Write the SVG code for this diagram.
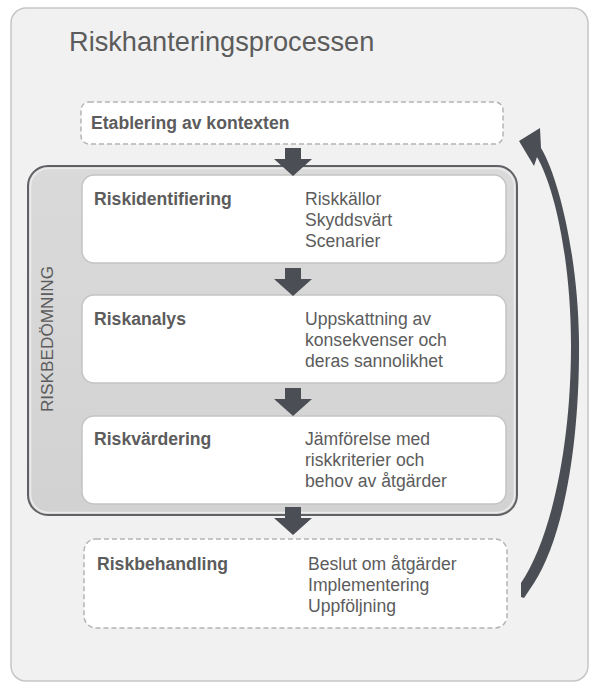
<svg xmlns="http://www.w3.org/2000/svg" width="591" height="683" viewBox="0 0 591 683">
<defs>
<style>
.t{font-family:"Liberation Sans",Arial,sans-serif;fill:#5c5c5c;}
.b{font-size:17.6px;font-weight:bold;}
.n{font-size:17.6px;}
.dash{fill:#ffffff;stroke:#b4b4b4;stroke-width:1.5;stroke-dasharray:5 3;}
.white{fill:#ffffff;stroke:#c4c4c4;stroke-width:1.5;}
.arr{fill:#4b4e54;}
</style>
<linearGradient id="gg" x1="0" y1="0" x2="0" y2="1">
<stop offset="0" stop-color="#dadada"/>
<stop offset="1" stop-color="#d2d2d2"/>
</linearGradient>
<path id="down" d="M-8,0 H8 V11 H19 L0,28 L-19,11 H-8 Z"/>
</defs>
<rect x="0" y="0" width="591" height="683" fill="#ffffff"/>
<g id="panel">
<rect x="11" y="8" width="577" height="673" rx="15" fill="#f1f1f1" stroke="#c6c6c6" stroke-width="1.5"/>
<text class="t" x="69" y="51" font-size="27.2">Riskhanteringsprocessen</text>
</g>
<g id="riskbedomning">
<rect x="28" y="166" width="489" height="349" rx="20" fill="url(#gg)" stroke="#5f6164" stroke-width="2"/>
<rect x="30.5" y="168.5" width="484" height="344" rx="18" fill="none" stroke="#ececec" stroke-width="1.5"/>
<text class="t" transform="translate(53,339) rotate(-90)" text-anchor="middle" font-size="17.2" fill="#777">RISKBEDÖMNING</text>
</g>
<g id="etablering">
<rect class="dash" x="81" y="102" width="422" height="42" rx="8"/>
<text class="t b" x="91" y="129">Etablering av kontexten</text>
</g>
<g id="riskidentifiering">
<rect class="white" x="82" y="175" width="424" height="88" rx="12"/>
<text class="t b" x="94" y="205">Riskidentifiering</text>
<text class="t n" x="305" y="205">Riskkällor</text>
<text class="t n" x="305" y="226">Skyddsvärt</text>
<text class="t n" x="305" y="247">Scenarier</text>
</g>
<g id="riskanalys">
<rect class="white" x="82" y="295" width="424" height="88" rx="12"/>
<text class="t b" x="94" y="325">Riskanalys</text>
<text class="t n" x="305" y="325">Uppskattning av</text>
<text class="t n" x="305" y="346">konsekvenser och</text>
<text class="t n" x="305" y="367">deras sannolikhet</text>
</g>
<g id="riskvardering">
<rect class="white" x="82" y="416" width="424" height="88" rx="12"/>
<text class="t b" x="94" y="445">Riskvärdering</text>
<text class="t n" x="305" y="445">Jämförelse med</text>
<text class="t n" x="305" y="466">riskkriterier och</text>
<text class="t n" x="305" y="487">behov av åtgärder</text>
</g>
<g id="riskbehandling">
<rect class="dash" x="84" y="539" width="423" height="89" rx="12"/>
<text class="t b" x="97" y="570">Riskbehandling</text>
<text class="t n" x="308" y="570">Beslut om åtgärder</text>
<text class="t n" x="308" y="591">Implementering</text>
<text class="t n" x="308" y="612">Uppföljning</text>
</g>
<g id="connectors">
<use href="#down" class="arr" x="293" y="148"/>
<use href="#down" class="arr" x="293" y="268"/>
<use href="#down" class="arr" x="293" y="388"/>
<use href="#down" class="arr" x="293" y="507"/>
<path class="arr" d="M541,148 C560,180 578,260 579,340 C580,450 562,540 534,583 L524,598 L521,597 L521,583 C550,540 571,450 571,345 C571,265 556,190 537,157 L534,166 L519,141 L540,128 Z"/>
</g>
</svg>
